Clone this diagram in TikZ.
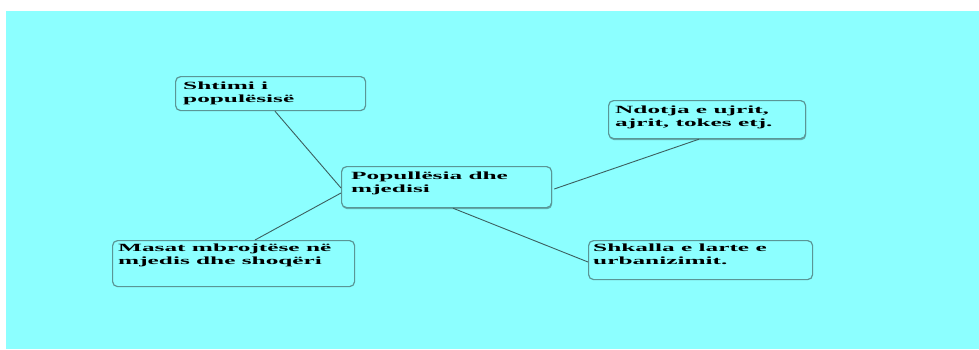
\documentclass[tikz,border=0pt]{standalone}
\usepackage{fontspec}
\setmainfont{Liberation Serif}[FakeStretch=2.3]
\usetikzlibrary{calc}
\definecolor{bg}{RGB}{140,255,255}
\definecolor{edgec}{RGB}{90,150,150}
\definecolor{connc}{RGB}{60,95,95}
\definecolor{shadowc}{RGB}{95,175,175}
\tikzset{
  box/.style={draw=edgec, line width=1.2pt, rounded corners=5pt, fill=bg, anchor=north west, inner sep=0pt},
  shadowbox/.style={fill=shadowc, rounded corners=5pt, anchor=north west, inner sep=0pt},
  lbl/.style={anchor=north west, inner sep=0pt, align=left, font=\fontsize{11}{13}\selectfont\bfseries},
  conn/.style={draw=connc, line width=0.9pt}
}
\begin{document}
\begin{tikzpicture}[x=1pt,y=-1pt]
\useasboundingbox (0,0) rectangle (979,349);
\fill[white] (0,0) rectangle (979,349);
\fill[bg] (6,11) rectangle (979,349);

\node[shadowbox, minimum width=210pt, minimum height=41pt] (pop-s) at (342,168) {};
\node[shadowbox, minimum width=197pt, minimum height=38pt] (ndotja-s) at (609,102) {};

\node[box, minimum width=190pt, minimum height=34pt] (shtimi) at (175,76) {};
\node[box, minimum width=210pt, minimum height=41pt] (pop) at (341,166) {};
\node[box, minimum width=197pt, minimum height=38pt] (ndotja) at (608,100) {};
\node[box, minimum width=224pt, minimum height=39pt] (shkalla) at (588,240) {};
\node[box, minimum width=242pt, minimum height=46pt] (masat) at (112,240) {};

\draw[conn] ($(shtimi.south west)+(100,0)$) -- ($(pop.north west)+(0,22)$);
\draw[conn] ($(masat.north west)+(143,0)$) -- ($(pop.north west)+(0,27)$);
\draw[conn] ($(ndotja.south west)+(91,0)$) -- ($(pop.north east)+(2,23)$);
\draw[conn] ($(pop.south west)+(112,0)$) -- ($(shkalla.north west)+(0,22)$);

\node[lbl] (shtimi-t) at ($(shtimi.north west)+(8,6)$) {Shtimi i\\populësisë};
\node[lbl] (pop-t) at ($(pop.north west)+(10,6)$) {Popullësia dhe\\mjedisi};
\node[lbl] (ndotja-t) at ($(ndotja.north west)+(7,6)$) {Ndotja e ujrit,\\ajrit, tokes etj.};
\node[lbl] (shkalla-t) at ($(shkalla.north west)+(5,4)$) {Shkalla e larte e\\urbanizimit.};
\node[lbl] (masat-t) at ($(masat.north west)+(6,4)$) {Masat mbrojtëse në\\mjedis dhe shoqëri};
\end{tikzpicture}
\end{document}
